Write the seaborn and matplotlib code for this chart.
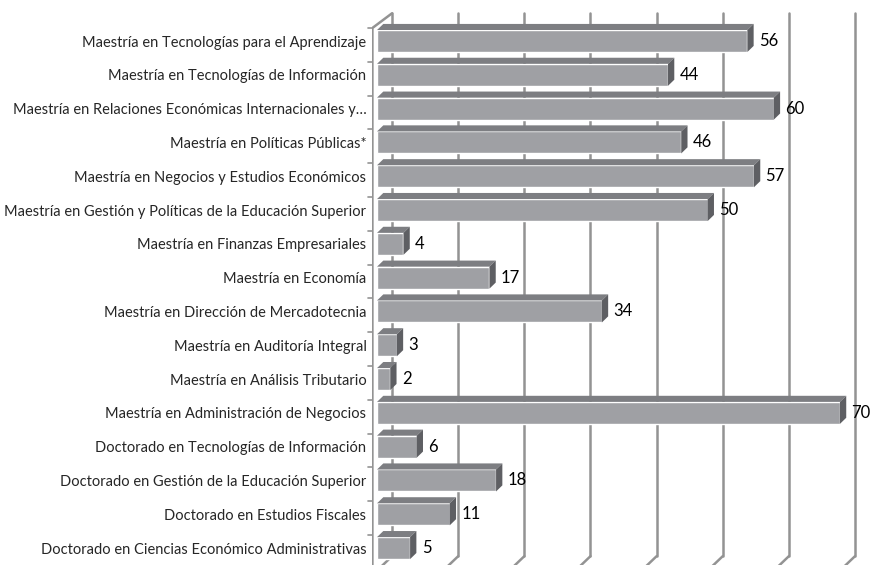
import numpy as np
import pandas as pd
import seaborn as sns
import matplotlib.pyplot as plt
from matplotlib.patches import Polygon

programas = [
    "Maestría en Tecnologías para el Aprendizaje",
    "Maestría en Tecnologías de Información",
    "Maestría en Relaciones Económicas Internacionales y…",
    "Maestría en Políticas Públicas*",
    "Maestría en Negocios y Estudios Económicos",
    "Maestría en Gestión y Políticas de la Educación Superior",
    "Maestría en Finanzas Empresariales",
    "Maestría en Economía",
    "Maestría en Dirección de Mercadotecnia",
    "Maestría en Auditoría Integral",
    "Maestría en Análisis Tributario",
    "Maestría en Administración de Negocios",
    "Doctorado en Tecnologías de Información",
    "Doctorado en Gestión de la Educación Superior",
    "Doctorado en Estudios Fiscales",
    "Doctorado en Ciencias Económico Administrativas",
]
alumnos = [56, 44, 60, 46, 57, 50, 4, 17, 34, 3, 2, 70, 6, 18, 11, 5]
grid_vals = [0, 10, 20, 30, 40, 50, 60, 70]

FRONT = "#9fa0a4"
TOP = "#7d7e82"
SIDE = "#5e5f63"
GRID = "#939393"

sns.set_theme(style="white")
plt.rcParams["font.family"] = ["Lato", "DejaVu Sans"]

fig = plt.figure(figsize=(8.75, 5.65), dpi=100)
ax = fig.add_axes([372 / 875, 0, 1 - 372 / 875, 1])

df = pd.DataFrame({"programa": programas, "alumnos": alumnos})

# depth offsets (data units) for the fake 3D look
dx, dy = 0.95, -0.18
bdx, bdy = 2.27, -0.8   # back wall offset

# back wall grid lines + floor diagonals
n = len(programas)
ybot = n - 0.76
for v in grid_vals:
    xb = v + bdx
    ax.plot([xb, xb], [bdy - 0.02, ybot], color=GRID, lw=1.8, zorder=0)
    ax.plot([xb, xb - 2.4], [ybot, ybot + 0.45], color=GRID, lw=1.8, zorder=0)
# left wall
ax.plot([-0.7, -0.7, bdx], [ybot + 0.6, -0.385, bdy - 0.02], color=GRID, lw=1.8, zorder=0)
for i in range(n):
    ax.plot([-1.35, -0.7], [i - 0.385, i - 0.385], color=GRID, lw=1.2,
            zorder=0, clip_on=False)

sns.barplot(data=df, x="alumnos", y="programa", orient="h", color=FRONT,
            saturation=1, width=0.65, ax=ax, zorder=3)

for p, val in zip(ax.patches, alumnos):
    x0, y0 = p.get_x(), p.get_y()
    w, h = p.get_width(), p.get_height()
    top = Polygon([(x0, y0), (x0 + w, y0), (x0 + w + dx, y0 + dy), (x0 + dx, y0 + dy)],
                  closed=True, facecolor=TOP, edgecolor="none", zorder=3)
    side = Polygon([(x0 + w, y0), (x0 + w + dx, y0 + dy), (x0 + w + dx, y0 + h + dy),
                    (x0 + w, y0 + h)],
                   closed=True, facecolor=SIDE, edgecolor="none", zorder=3)
    ax.add_patch(top)
    ax.add_patch(side)
    ax.text(x0 + w + dx + 0.8, y0 + h / 2, str(val), va="center", ha="left",
            fontsize=12, color="black")

ax.set_xlim(-0.76, 75.3)
ax.set_ylim(15.5, -1.213)
ax.set_xlabel("")
ax.set_ylabel("")
ax.set_xticks([])
ax.tick_params(axis="y", length=0, pad=4, labelsize=10.5)
for s in ax.spines.values():
    s.set_visible(False)

fig.savefig("out.png", dpi=100)
